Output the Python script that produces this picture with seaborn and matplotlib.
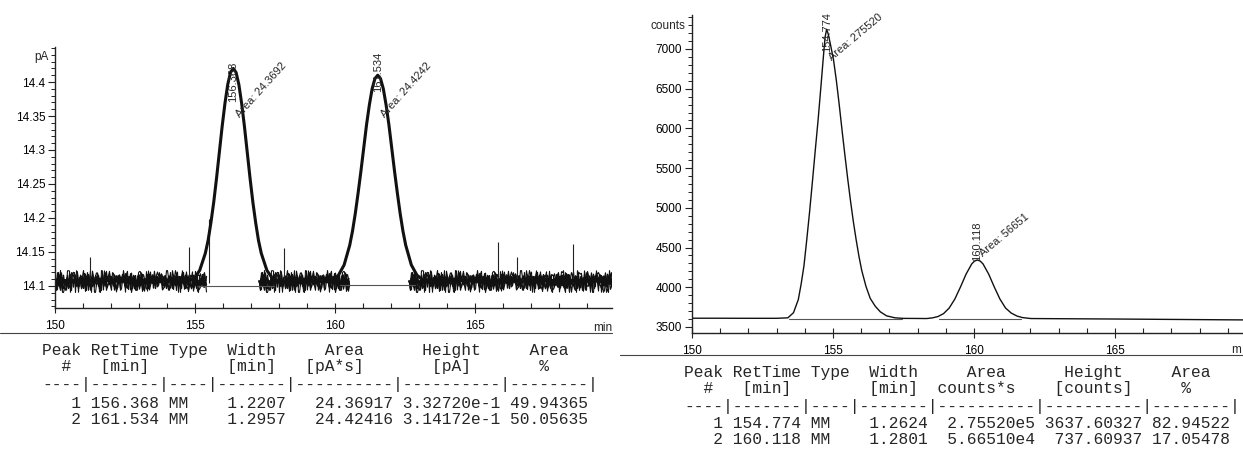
import matplotlib
matplotlib.use("Agg")
import matplotlib.pyplot as plt
import seaborn as sns
import pandas as pd
from matplotlib.ticker import MultipleLocator, FixedLocator
from matplotlib.lines import Line2D

# ---------------- left chromatogram (signal in pA) ----------------
left_time = [150.00, 151.00, 152.00, 153.00, 154.00, 154.77,
             154.97, 155.17, 155.37, 155.47, 155.57, 155.67, 155.77, 155.87, 155.97, 156.07, 156.17, 156.27, 156.37,
             156.47, 156.57, 156.67, 156.77, 156.87, 156.97, 157.07, 157.17, 157.27, 157.37, 157.57, 157.77, 157.97,
             158.60, 159.20, 159.73,
             159.93, 160.13, 160.33, 160.53, 160.63, 160.73, 160.83, 160.93, 161.03, 161.13, 161.23, 161.33, 161.43, 161.53,
             161.63, 161.73, 161.83, 161.93, 162.03, 162.13, 162.23, 162.33, 162.43, 162.53, 162.73, 162.93, 163.13,
             164.00, 165.00, 166.00, 167.00, 168.00, 169.90]
left_signal = [14.108, 14.108, 14.108, 14.107, 14.108, 14.108,
               14.111, 14.123, 14.148, 14.167, 14.193, 14.223, 14.258, 14.296, 14.334, 14.368, 14.396, 14.414, 14.420,
               14.414, 14.396, 14.368, 14.334, 14.296, 14.258, 14.223, 14.193, 14.167, 14.148, 14.123, 14.111, 14.107,
               14.105, 14.106, 14.107,
               14.109, 14.116, 14.131, 14.160, 14.181, 14.207, 14.237, 14.269, 14.303, 14.337, 14.366, 14.390, 14.405, 14.410,
               14.405, 14.390, 14.366, 14.337, 14.303, 14.269, 14.237, 14.207, 14.181, 14.160, 14.131, 14.116, 14.109,
               14.108, 14.108, 14.107, 14.108, 14.108, 14.108]
# flat stretches where the detector noise band is visible
left_noise_start = [150.0, 157.30, 162.65]
left_noise_end = [155.40, 160.50, 169.9]
left_noise_level = [14.108, 14.107, 14.108]
# isolated noise spikes
left_spike_time = [151.25, 154.78, 155.49, 158.19, 165.83, 166.50, 168.49]
left_spike_top = [14.143, 14.157, 14.199, 14.156, 14.165, 14.142, 14.162]

left_rt_labels = ["156.368", "161.534"]
left_rt = [156.368, 161.534]
left_area_labels = ["Area: 24.3692", "Area: 24.4242"]
left_bl_start = [155.10, 160.20]
left_bl_end = [157.83, 162.86]
left_bl_level = [14.0995, 14.1015]
left_yticks = [14.1, 14.15, 14.2, 14.25, 14.3, 14.35, 14.4]
left_yticklabels = ["14.1", "14.15", "14.2", "14.25", "14.3", "14.35", "14.4"]

# ---------------- right chromatogram (signal in counts) ----------------
right_time = [150.0, 151.0, 152.0, 153.0, 153.4, 153.6, 153.77, 153.87, 153.97, 154.07, 154.17, 154.27, 154.37,
              154.47, 154.57, 154.67, 154.72, 154.774, 154.83, 154.92, 155.02, 155.12, 155.22, 155.32, 155.42,
              155.52, 155.62, 155.72, 155.82, 155.92, 156.02, 156.17, 156.32, 156.5, 156.68, 156.9, 157.2, 157.5,
              158.0, 158.32, 158.52, 158.72, 158.92, 159.12, 159.32, 159.52, 159.72, 159.92, 160.02, 160.118,
              160.22, 160.32, 160.52, 160.72, 160.92, 161.12, 161.32, 161.52, 161.72, 162.02, 163.0, 165.0,
              167.0, 169.0, 170.0]
right_counts = [3610, 3610, 3609, 3609, 3615, 3680, 3845, 4040, 4270, 4600, 4950, 5330, 5720,
                6100, 6520, 6950, 7150, 7247, 7190, 7040, 6860, 6600, 6300, 5980, 5670,
                5370, 5090, 4830, 4600, 4390, 4210, 4010, 3860, 3760, 3690, 3640, 3615, 3608,
                3607, 3606, 3614, 3631, 3668, 3738, 3851, 4003, 4166, 4294, 4330, 4343,
                4330, 4294, 4166, 4003, 3851, 3738, 3675, 3638, 3618, 3606, 3604, 3600,
                3595, 3590, 3588]
right_rt_labels = ["154.774", "160.118"]
right_rt = [154.774, 160.118]
right_area_labels = ["Area: 275520", "Area: 56651"]
right_bl_start = [153.45, 158.75]
right_bl_end = [157.45, 161.65]
right_bl_level = [3606, 3602]
right_yticks = [3500, 4000, 4500, 5000, 5500, 6000, 6500, 7000]
x_ticks = [150, 155, 160, 165]

# ---------------- peak tables ----------------
peak_no = [1, 2]
peak_type = ["MM", "MM"]
left_tab_rt = [156.368, 161.534]
left_tab_width = [1.2207, 1.2957]
left_tab_area = ["24.36917", "24.42416"]
left_tab_height = ["3.32720e-1", "3.14172e-1"]
left_tab_pct = [49.94365, 50.05635]
right_tab_rt = [154.774, 160.118]
right_tab_width = [1.2624, 1.2801]
right_tab_area = ["2.75520e5", "5.66510e4"]
right_tab_height = ["3637.60327", "737.60937"]
right_tab_pct = [82.94522, 17.05478]

left_header = ["Peak RetTime Type  Width     Area      Height     Area",
               "  #   [min]        [min]   [pA*s]       [pA]       %"]
right_header = ["Peak RetTime Type  Width     Area      Height     Area",
                "  #   [min]        [min]  counts*s    [counts]     %"]
dash_line = "----|-------|----|-------|----------|----------|--------|"

# ---------------- figure ----------------
W, H = 1243, 454
sns.set_theme(style="ticks")
plt.rcParams["font.family"] = ["Liberation Sans", "DejaVu Sans"]
fig = plt.figure(figsize=(W / 100, H / 100), dpi=100)
fig.patch.set_facecolor("white")


def box(x0, y0, x1, y1):
    return [x0 / W, 1 - y1 / H, (x1 - x0) / W, (y1 - y0) / H]


axL = fig.add_axes(box(55, 47, 612, 308))
axR = fig.add_axes(box(692, 15, 1256, 333))

dfL = pd.DataFrame({"time": left_time, "signal": left_signal})
dfR = pd.DataFrame({"time": right_time, "signal": right_counts})

# noise band on the flat stretches (sketch style gives the jagged detector noise)
noise_layers = [(0.8, (11, 1.0, 7)), (0.9, (9, 0.7, 5)), (1.0, (7, 0.9, 4)),
                (1.1, (5, 0.6, 4)), (1.2, (3, 1.2, 3))]
for a, b, c in zip(left_noise_start, left_noise_end, left_noise_level):
    seg = pd.DataFrame({"time": [a, b], "signal": [c, c]})
    for lw, sk in noise_layers:
        sns.lineplot(data=seg, x="time", y="signal", ax=axL, color="#111111", lw=lw,
                     estimator=None, sort=False, legend=False)
        axL.lines[-1].set_sketch_params(*sk)
axL.vlines(left_spike_time, 14.105, left_spike_top, color="#222222", lw=0.8)

# the FID trace itself
sns.lineplot(data=dfL, x="time", y="signal", ax=axL, color="#111111", lw=2.2,
             estimator=None, sort=False, legend=False)
sns.lineplot(data=dfR, x="time", y="signal", ax=axR, color="#111111", lw=1.0,
             estimator=None, sort=False, legend=False)

for a, b, c in zip(left_bl_start, left_bl_end, left_bl_level):
    axL.plot([a, b], [c, c], color="#555555", lw=0.8)
for a, b, c in zip(right_bl_start, right_bl_end, right_bl_level):
    axR.plot([a, b], [c, c], color="#555555", lw=0.8)

axL.set_xlim(150, 169.9)
axL.set_ylim(14.0676, 14.4515)
axR.set_xlim(150, 170)
axR.set_ylim(3424, 7428)

for ax in (axL, axR):
    sns.despine(ax=ax)
    ax.set_xlabel("")
    ax.set_ylabel("")
    ax.spines["left"].set_color("#222222")
    ax.spines["bottom"].set_color("#222222")
    ax.spines["left"].set_linewidth(1.0)
    ax.spines["bottom"].set_linewidth(1.0)
    ax.xaxis.set_major_locator(FixedLocator(x_ticks))
    ax.xaxis.set_minor_locator(MultipleLocator(1))
    ax.tick_params(axis="x", which="major", direction="inout", length=7, width=0.8,
                   labelsize=8.5, pad=5, colors="#222222")
    ax.tick_params(axis="x", which="minor", direction="in", length=3.5, width=0.8, colors="#222222")
    ax.tick_params(axis="y", which="major", direction="out", length=5, width=0.8,
                   labelsize=8.5, pad=2, colors="#222222")
    ax.tick_params(axis="y", which="minor", direction="out", length=3, width=0.7, colors="#222222")
    ax.set_facecolor("none")

axL.set_yticks(left_yticks)
axL.set_yticklabels(left_yticklabels)
axL.yaxis.set_minor_locator(MultipleLocator(0.01))
axR.set_yticks(right_yticks)
axR.yaxis.set_minor_locator(MultipleLocator(100))

for ax in (axL, axR):
    for lab in ax.get_xticklabels() + ax.get_yticklabels():
        lab.set_color("black")

axL.text(-0.012, 0.985, "pA", transform=axL.transAxes, ha="right", va="top", fontsize=8.5)
axR.text(-0.012, 0.985, "counts", transform=axR.transAxes, ha="right", va="top", fontsize=8.5)
axL.text(1.0, -0.055, "min", transform=axL.transAxes, ha="right", va="top", fontsize=8.5)
fig.text(1241 / W, 1 - 350 / H, "m", ha="right", va="center", fontsize=8.5)

# peak annotations
for rt, lab, alab, y_rt, y_a in zip(left_rt, left_rt_labels, left_area_labels, [14.40, 14.415], [14.345, 14.345]):
    axL.text(rt, y_rt, lab, rotation=90, ha="center", va="center", fontsize=8)
    axL.text(rt + 0.3, y_a, alab, rotation=48, rotation_mode="anchor", ha="left", va="bottom", fontsize=8)
for rt, lab, alab, y_rt, y_a, dx in zip(right_rt, right_rt_labels, right_area_labels, [7210, 4580],
                                         [6830, 4360], [0.25, 0.25]):
    axR.text(rt, y_rt, lab, rotation=90, ha="center", va="center", fontsize=8)
    axR.text(rt + dx, y_a, alab, rotation=40, rotation_mode="anchor", ha="left", va="bottom", fontsize=8)

# page rule under the time axes
fig.add_artist(Line2D([0, 612 / W], [1 - 333 / H] * 2, color="#444444", lw=0.8))
fig.add_artist(Line2D([620 / W, 1], [1 - 355 / H] * 2, color="#444444", lw=0.8))


def table_lines(rt, width, area, height, pct):
    rows = []
    for n, r, t, w, a, h, p in zip(peak_no, rt, peak_type, width, area, height, pct):
        rows.append(f"{n:4d} {r:7.3f} {t:<4s} {w:7.4f} {a:>10s} {h:>10s} {p:8.5f}")
    return rows


left_lines = left_header + [dash_line] + table_lines(left_tab_rt, left_tab_width, left_tab_area,
                                                      left_tab_height, left_tab_pct)
right_lines = right_header + [dash_line] + table_lines(right_tab_rt, right_tab_width, right_tab_area,
                                                        right_tab_height, right_tab_pct)
left_y = [350, 366, 384, 403, 420]
right_y = [372, 388, 406, 424, 440]
for txt, yy in zip(left_lines, left_y):
    fig.text(42 / W, 1 - yy / H, txt, family="Liberation Mono", fontsize=11.7, ha="left", va="center")
for txt, yy in zip(right_lines, right_y):
    fig.text(684 / W, 1 - yy / H, txt, family="Liberation Mono", fontsize=11.7, ha="left", va="center")

fig.savefig("out.png", dpi=100, facecolor="white")
